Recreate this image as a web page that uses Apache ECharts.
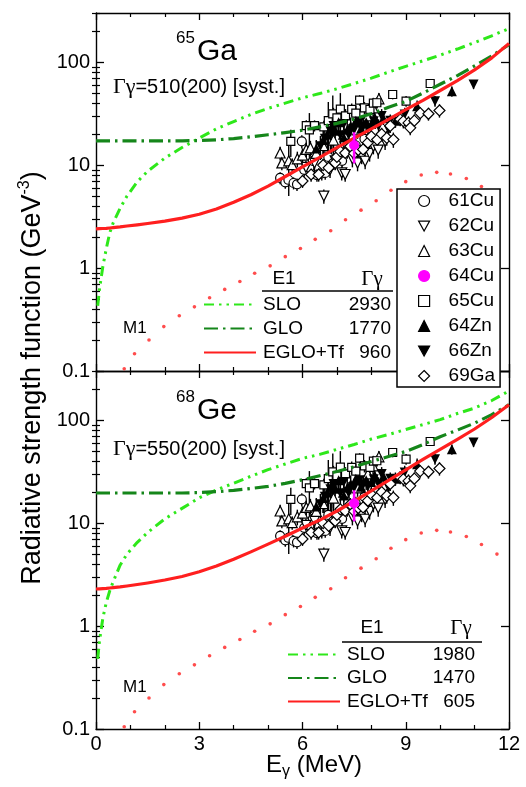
<!DOCTYPE html>
<html>
<head>
<meta charset="utf-8">
<script src="https://cdn.jsdelivr.net/npm/echarts@6/dist/echarts.min.js"></script>
<style>
  html, body { margin: 0; padding: 0; background: #fff; }
  #chart { width: 526px; height: 787px; }
</style>
</head>
<body>
<div id="chart"></div>
<script>
// ---------- data ----------
// energy grid of the calculated E1 strength functions (MeV)
const curveE = [0, 0.05, 0.1, 0.2, 0.3, 0.4, 0.5, 0.7, 0.9, 1.2, 1.5, 2, 2.5, 3, 3.5, 4, 4.5, 5, 5.5, 6, 6.5, 7, 7.5, 8, 8.5, 9, 9.5, 10, 10.5, 11, 11.5, 12];

// 65Ga, GeV^-3
const ga65SLO  = [null, 0.43, 0.62, 1.04, 1.55, 2.2, 2.75, 3.8, 5.0, 6.9, 8.7, 11.7, 14.8, 18.3, 22.5, 26.5, 31, 35.5, 40, 45, 49.5, 55, 62, 70, 80, 91, 103, 117, 134, 155, 180, 212];
const ga65GLO  = [17.2, 17.2, 17.2, 17.2, 17.2, 17.2, 17.2, 17.2, 17.2, 17.2, 17.2, 17.2, 17.2, 17.3, 17.6, 18.1, 18.8, 19.7, 20.7, 21.8, 23.5, 25.4, 28, 31.5, 36.5, 41.5, 50, 61, 74, 92, 115, 148];
const ga65EGLO = [2.4, 2.4, 2.41, 2.42, 2.43, 2.45, 2.47, 2.51, 2.56, 2.63, 2.71, 2.86, 3.05, 3.33, 3.75, 4.35, 5.15, 6.25, 7.75, 9.6, 11.9, 14.8, 18.3, 22.5, 27.8, 34.5, 42.5, 53, 66, 84, 110, 152];

// 68Ge, GeV^-3
const ge68SLO  = [null, 0.48, 0.71, 1.2, 1.7, 2.2, 2.7, 3.9, 5.0, 6.5, 8.1, 11, 13.9, 17.6, 21, 24.4, 28.5, 33, 37.5, 42.5, 46.5, 52, 58, 65.5, 72.5, 81, 90.5, 101, 116, 131, 155, 192];
const ge68GLO  = [19.6, 19.6, 19.6, 19.6, 19.6, 19.6, 19.6, 19.6, 19.6, 19.6, 19.6, 19.6, 19.6, 19.8, 20.2, 20.8, 21.7, 22.7, 24.3, 26.3, 28.8, 31.7, 35.2, 39.6, 44.3, 49.6, 58, 69, 80, 93.5, 113, 141];
const ge68EGLO = [2.29, 2.29, 2.3, 2.31, 2.32, 2.34, 2.36, 2.4, 2.45, 2.53, 2.62, 2.8, 3.03, 3.37, 3.83, 4.45, 5.25, 6.25, 7.45, 8.95, 10.7, 13.1, 16.3, 20.5, 26, 32.8, 41.5, 52, 65, 82, 106, 141];

// M1 strength function
const m1E = [0.82, 1.12, 1.54, 1.97, 2.42, 2.86, 3.30, 3.74, 4.18, 4.61, 5.06, 5.50, 5.94, 6.37, 6.82, 7.25, 7.70, 8.14, 8.57, 9.00, 9.45, 9.90, 10.30, 10.76, 11.20, 11.65];
const m1F = [0.105, 0.147, 0.20, 0.27, 0.344, 0.42, 0.515, 0.62, 0.74, 0.89, 1.05, 1.29, 1.55, 1.9, 2.3, 2.94, 3.65, 4.5, 5.7, 6.9, 8.0, 8.5, 8.2, 7.4, 6.2, 5.0];

// E1 model names and their radiative widths (meV)
const e1Models = ['SLO', 'GLO', 'EGLO+Tf'];
const gammaGa65 = [2930, 1770, 960];
const gammaGe68 = [1980, 1470, 605];

// experimental strength functions of neighbouring nuclei: [E (MeV), f (GeV^-3), error]
const cu61 = [[5.35,7.5,1.0],[5.50,6.8,0.9],[5.59,7.2,1.0],[5.74,6.7,0.9],[5.84,6.5,0.9],[5.98,17.0,2.5],[6.05,9.0,1.3],[6.20,9.5,1.3],[6.30,11.0,1.6],[6.42,8.0,1.1],[6.56,8.3,1.2],[6.66,8.4,1.2],[6.75,12.0,2.0],[6.90,10.5,1.5],[7.05,12.0,1.8],[7.15,11.0,1.8],[7.30,13.5,2.0],[7.55,15.5,2.5],[7.80,18.0,3.0]];
const cu62 = [[6.62,5.0,0.8],[6.10,9.5,1.5],[6.35,10.5,1.8],[6.80,9.0,1.5],[6.95,11.0,2.0],[7.14,8.4,1.3],[7.24,8.1,1.2],[7.45,11.5,2.0],[7.60,10.5,1.8],[7.72,12.2,2.0],[7.82,10.9,1.8],[7.95,13.0,2.2],[8.06,15.2,2.5],[8.20,14.0,2.5],[8.40,17.0,3.0]];
const cu63 = [[5.35,13.1,2.0],[5.40,10.5,1.6],[5.60,11.0,6.0],[5.70,10.1,1.5],[5.85,11.5,2.0],[6.00,12.5,2.0],[6.11,14.2,2.5],[6.23,14.7,2.5],[6.40,13.0,2.5],[6.60,15.5,3.0],[6.90,17.5,3.5],[7.20,20.0,4.0],[7.60,22.0,4.0],[7.90,30.0,5.0],[8.05,36.0,6.0],[8.22,44.0,6.0]];
const cu64 = [[7.50,15.6,5.2]];
const cu65 = [[5.66,17.0,5.0],[6.11,24.2,3.0],[6.20,22.0,10.0],[6.35,24.2,3.0],[6.62,23.5,3.5],[6.75,27.0,14.0],[6.88,31.5,16.0],[7.00,28.8,8.0],[7.10,35.0,15.0],[7.25,30.0,5.0],[7.43,34.7,5.0],[7.55,32.0,6.0],[7.66,42.7,5.0],[7.80,36.0,5.0],[7.96,34.7,5.0],[8.06,40.0,5.0],[8.16,40.3,5.0],[8.62,48.5,5.0],[9.01,41.8,5.0],[9.71,62.0,6.0]];
const zn64 = [[6.40,14.5,3.0],[6.60,17.5,5.0],[6.72,19.8,8.0],[6.85,23.0,10.0],[6.95,21.5,4.0],[7.05,26.0,6.0],[7.20,18.5,4.0],[7.30,22.0,5.0],[7.40,24.0,5.0],[7.55,27.0,6.0],[7.70,22.5,4.0],[7.85,26.0,5.0],[8.00,25.0,4.0],[8.10,29.0,5.0],[8.35,28.5,4.0],[8.70,27.0,4.0],[9.33,37.3,5.0],[10.34,52.0,6.0]];
const zn66 = [[6.52,15.2,4.0],[6.65,18.0,6.0],[6.81,21.3,9.0],[6.90,24.0,12.0],[7.10,19.5,5.0],[7.20,25.0,8.0],[7.35,20.0,5.0],[7.50,22.0,5.0],[7.65,26.0,6.0],[7.77,23.8,5.0],[7.90,22.6,4.0],[8.07,26.7,4.0],[8.21,23.8,4.0],[8.30,30.0,5.0],[8.50,22.0,4.0],[8.55,27.0,4.0],[8.97,31.0,5.0],[9.85,41.8,5.0],[10.97,60.7,6.0]];
const ga69 = [[6.00,7.0,1.0],[6.25,8.1,1.2],[6.47,8.1,1.2],[6.60,10.0,1.5],[6.76,9.4,1.5],[6.95,10.5,1.6],[7.00,12.0,2.0],[7.10,13.6,2.0],[7.24,13.1,2.0],[7.39,15.2,2.3],[7.50,13.0,2.0],[7.62,14.0,2.2],[7.76,14.2,2.2],[7.90,16.5,2.5],[8.00,19.0,3.0],[8.17,17.7,2.8],[8.30,20.0,3.0],[8.45,18.4,3.0],[8.55,24.0,3.5],[8.64,17.7,3.0],[8.84,27.8,4.0],[8.93,26.7,4.0],[9.08,25.7,4.0],[9.13,23.0,3.5],[9.25,27.0,4.0],[9.42,32.0,4.5],[9.66,31.5,4.5],[9.98,33.9,5.0]];

// axis ticks
const xTicks = [0, 3, 6, 9, 12];
const yMajor = [0.1, 1, 10, 100];

// ---------- styles ----------
const SANS = "'Liberation Sans', Arial, sans-serif";
const SERIF = "'Liberation Serif', 'Times New Roman', serif";
const C_SLO = '#2ee81a';
const C_GLO = '#15861a';
const C_RED = '#ff1f1f';
const DOWN_TRIANGLE = 'path://M0,0L10,0L5,9Z';

const nuclides = [
  { name: '61Cu', data: cu61, symbol: 'circle',   size: 9,  rotate: 0,   fill: '#fff',    stroke: '#000' },
  { name: '62Cu', data: cu62, symbol: 'triangle', size: 10, rotate: 180, fill: '#fff',    stroke: '#000' },
  { name: '63Cu', data: cu63, symbol: 'triangle', size: 10, rotate: 0,   fill: '#fff',    stroke: '#000' },
  { name: '64Cu', data: cu64, symbol: 'circle',   size: 10, rotate: 0,   fill: '#ff00ff', stroke: '#ff00ff' },
  { name: '65Cu', data: cu65, symbol: 'rect',     size: 8,  rotate: 0,   fill: '#fff',    stroke: '#000' },
  { name: '64Zn', data: zn64, symbol: 'triangle', size: 10, rotate: 0,   fill: '#000',    stroke: '#000' },
  { name: '66Zn', data: zn66, symbol: 'triangle', size: 10, rotate: 180, fill: '#000',    stroke: '#000' },
  { name: '69Ga', data: ga69, symbol: 'diamond',  size: 11, rotate: 0,   fill: '#fff',    stroke: '#000' }
];

const curveStyles = [
  { color: C_SLO, width: 3,   type: [10, 5, 2.5, 5, 2.5, 5] },
  { color: C_GLO, width: 3.2, type: [14, 5, 2.5, 5] },
  { color: C_RED, width: 3.2, type: 'solid' }
];

const panels = [
  { tag: '65Ga', curves: [ga65SLO, ga65GLO, ga65EGLO], gamma: gammaGa65 },
  { tag: '68Ge', curves: [ge68SLO, ge68GLO, ge68EGLO], gamma: gammaGe68 }
];

// minor ticks of the logarithmic axis: 2..9 in every decade
const yMinor = [];
yMajor.forEach(d => { for (let k = 2; k <= 9; k++) { const v = +(d * k).toPrecision(3); if (v <= 300) yMinor.push(v); } });

// ---------- axes ----------
const gridTops = [13, 371];
const grids = gridTops.map(t => ({ left: 96, top: t, width: 413, height: 358 }));

const axisLine = { show: true, onZero: false, lineStyle: { color: '#000', width: 1.4 } };
const xAxes = [];
const yAxes = [];
grids.forEach((g, gi) => {
  ['bottom', 'top'].forEach(pos => {
    xAxes.push({
      type: 'value', gridIndex: gi, position: pos, min: 0, max: 12, interval: 3,
      axisLine,
      axisTick: { show: true, inside: true, length: 7, lineStyle: { color: '#000', width: 1.3 } },
      minorTick: { show: true, splitNumber: 3, length: 4, lineStyle: { color: '#000', width: 1.2 } },
      splitLine: { show: false },
      axisLabel: {
        show: gi === 1 && pos === 'bottom', margin: 5, color: '#000',
        fontFamily: SANS, fontSize: 20, customValues: xTicks
      }
    });
  });
  ['left', 'right'].forEach(pos => {
    yAxes.push({
      type: 'log', logBase: 10, gridIndex: gi, position: pos, min: 0.1, max: 300,
      axisLine,
      axisTick: { show: true, inside: true, length: 8, customValues: yMajor, lineStyle: { color: '#000', width: 1.3 } },
      splitLine: { show: false },
      axisLabel: {
        show: pos === 'left', margin: 6, color: '#000', fontFamily: SANS, fontSize: 20,
        customValues: yMajor,
        formatter: v => String(Math.round(v * 10) / 10)
      }
    });
    yAxes.push({
      type: 'log', logBase: 10, gridIndex: gi, position: pos, min: 0.1, max: 300,
      axisLine: { show: false },
      axisTick: { show: true, inside: true, length: 4, customValues: yMinor, lineStyle: { color: '#000', width: 1.2 } },
      splitLine: { show: false },
      axisLabel: { show: false }
    });
  });
});

// ---------- series ----------
const series = [];
panels.forEach((p, gi) => {
  const xi = gi * 2, yi = gi * 4;
  // experimental points
  nuclides.forEach(n => {
    series.push({
      type: 'scatter', name: n.name, xAxisIndex: xi, yAxisIndex: yi,
      data: n.data.map(d => [d[0], d[1]]),
      symbol: n.symbol, symbolSize: n.size, symbolRotate: n.rotate,
      itemStyle: { color: n.fill, borderColor: n.stroke, borderWidth: n.fill === '#fff' ? 1.2 : 0, opacity: 1 },
      z: n.name === '64Cu' ? 6 : 3
    });
  });
  nuclides.forEach(n => {
    series.push({
      type: 'custom', name: n.name, xAxisIndex: xi, yAxisIndex: yi,
      data: n.data.map(d => [d[0], d[1] - d[2], d[1] + d[2]]),
      encode: { x: 0, y: [1, 2] },
      renderItem: (params, api) => {
        const a = api.coord([api.value(0), api.value(1)]);
        const b = api.coord([api.value(0), api.value(2)]);
        return {
          type: 'line',
          shape: { x1: a[0], y1: a[1], x2: b[0], y2: b[1] },
          style: { stroke: n.stroke, lineWidth: n.name === '64Cu' ? 2.6 : 1.4 }
        };
      },
      z: n.name === '64Cu' ? 5 : 2, silent: true
    });
  });
  // calculated E1 strength functions
  p.curves.forEach((vals, ci) => {
    const s = curveStyles[ci];
    series.push({
      type: 'line', name: e1Models[ci] + ' ' + p.tag, xAxisIndex: xi, yAxisIndex: yi,
      data: curveE.map((e, i) => [e, vals[i]]).filter(d => d[1] != null),
      symbol: 'none', smooth: false,
      lineStyle: { color: s.color, width: s.width, type: s.type, join: 'round', cap: 'butt' },
      itemStyle: { color: s.color },
      z: 4
    });
  });
  // M1 strength function
  series.push({
    type: 'scatter', name: 'M1 ' + p.tag, xAxisIndex: xi, yAxisIndex: yi,
    data: m1E.map((e, i) => [e, m1F[i]]),
    symbol: 'circle', symbolSize: 3.6, itemStyle: { color: C_RED }, z: 4
  });
});

// ---------- legends ----------
const e1Legend = (p, left, top, gap) => ({
  orient: 'vertical', left, top, padding: 0, itemGap: gap,
  itemWidth: 52, itemHeight: 14,
  data: e1Models.map(m => m + ' ' + p.tag),
  itemStyle: { opacity: 0 },
  formatter: name => {
    const i = e1Models.findIndex(m => m + ' ' + p.tag === name);
    return '{n|' + e1Models[i] + '}{v|' + p.gamma[i] + '}';
  },
  textStyle: {
    color: '#000', fontFamily: SANS, fontSize: 19, padding: [0, 0, 0, 2],
    rich: {
      n: { width: 78, fontSize: 19, fontFamily: SANS, color: '#000', lineHeight: 20 },
      v: { width: 50, align: 'right', fontSize: 19, fontFamily: SANS, color: '#000', lineHeight: 20 }
    }
  },
  z: 10
});

const legends = [
  {
    orient: 'vertical', left: 397, top: 189, padding: [2, 5, 1, 21], itemGap: 5,
    itemWidth: 11, itemHeight: 11,
    backgroundColor: '#fff', borderColor: '#000', borderWidth: 1.5, borderRadius: 0,
    data: nuclides.map(n => n.rotate ? { name: n.name, icon: DOWN_TRIANGLE } : { name: n.name }),
    textStyle: { color: '#000', fontFamily: SANS, fontSize: 19, lineHeight: 20, padding: [0, 0, 0, 14] },
    itemStyle: { borderWidth: 1.2 },
    z: 20
  },
  e1Legend(panels[0], 203, 295, 5),
  e1Legend(panels[1], 287, 645, 4.5)
];

// ---------- annotations ----------
const txt = (x, y, text, size, extra) => ({
  type: 'text', x, y, z: 30,
  style: Object.assign({ text, fill: '#000', font: size + 'px ' + SANS, align: 'left', verticalAlign: 'middle' }, extra || {})
});
const gammaText = (x, y, rest) => ({
  type: 'text', x, y, z: 30,
  style: {
    text: '{g|Γγ}{t|' + rest + '}', align: 'left', verticalAlign: 'middle',
    rich: {
      g: { fontFamily: SERIF, fontSize: 22, fill: '#000' },
      t: { fontFamily: SANS, fontSize: 20, fill: '#000' }
    }
  }
});
const rule = (x1, x2, y) => ({ type: 'line', z: 30, shape: { x1, y1: y, x2, y2: y }, style: { stroke: '#000', lineWidth: 1.3 } });

const graphic = [
  // 65Ga panel
  txt(176, 38, '65', 17),
  txt(197, 52, 'Ga', 30),
  gammaText(113, 87, '=510(200) [syst.]'),
  txt(123, 328, 'M1', 17),
  txt(284, 279, 'E1', 19, { align: 'center' }),
  txt(372, 279, 'Γγ', 21, { align: 'center', font: '21px ' + SERIF }),
  rule(262, 393, 291),
  // 68Ge panel
  txt(176, 397, '68', 17),
  txt(197, 411, 'Ge', 30),
  gammaText(113, 449, '=550(200) [syst.]'),
  txt(123, 687, 'M1', 17),
  txt(372, 628, 'E1', 19, { align: 'center' }),
  txt(461, 628, 'Γγ', 21, { align: 'center', font: '21px ' + SERIF }),
  rule(342, 482, 642),
  // axis titles
  {
    type: 'text', x: 33, y: 378, rotation: Math.PI / 2, z: 30,
    style: {
      text: '{m|Radiative strength function (GeV}{s|-3}{m|)}', align: 'center', verticalAlign: 'middle',
      rich: {
        m: { fontFamily: SANS, fontSize: 27, lineHeight: 32, verticalAlign: 'middle', fill: '#000' },
        s: { fontFamily: SANS, fontSize: 16, lineHeight: 16, verticalAlign: 'top', fill: '#000' }
      }
    }
  },
  {
    type: 'text', x: 314, y: 765, z: 30,
    style: {
      text: '{m|E}{s|γ}{m| (MeV)}', align: 'center', verticalAlign: 'middle',
      rich: {
        m: { fontFamily: SANS, fontSize: 24, lineHeight: 30, verticalAlign: 'middle', fill: '#000' },
        s: { fontFamily: SANS, fontSize: 16, lineHeight: 16, verticalAlign: 'bottom', fill: '#000' }
      }
    }
  }
];

const chart = echarts.init(document.getElementById('chart'), null, { renderer: 'canvas' });
chart.setOption({
  animation: false,
  backgroundColor: '#fff',
  grid: grids,
  xAxis: xAxes,
  yAxis: yAxes,
  legend: legends,
  series,
  graphic
});
</script>
</body>
</html>
